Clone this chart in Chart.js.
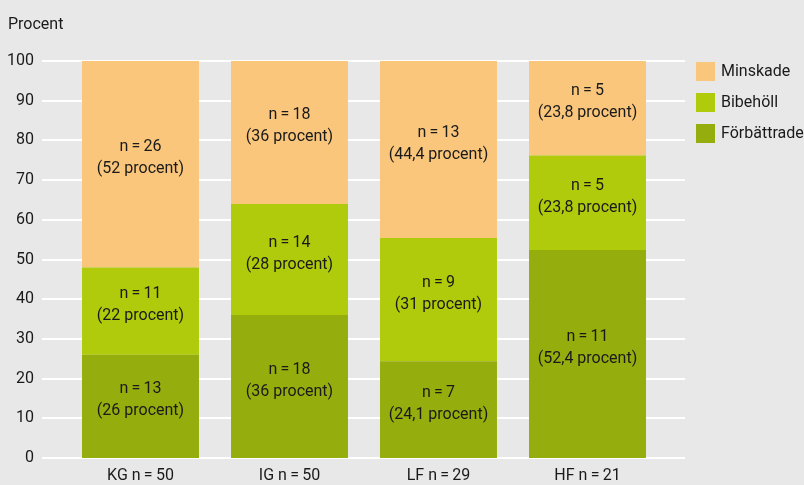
<!DOCTYPE html>
<html>
<head>
<meta charset="utf-8">
<script src="https://cdn.jsdelivr.net/npm/chart.js@4/dist/chart.umd.min.js"></script>
<style>
  html, body { margin: 0; padding: 0; background: #e8e8e8; overflow: hidden; }
  canvas { display: block; }
</style>
</head>
<body>
<canvas id="chart" width="804" height="485"></canvas>
<script>
/* ===== Stacked percent chart ===== */

const categories = ['KG n\u2009=\u200950', 'IG n\u2009=\u200950', 'LF n\u2009=\u200929', 'HF n\u2009=\u200921'];

// bar heights (percent)
const forbattrade = [26, 36, 24.4, 52.4];
const bibeholl = [22, 28, 31, 23.8];
const minskade = [52, 36, 44.6, 23.8];

// counts and printed percentages inside the bars
const forbattradeN = [13, 18, 7, 11];
const bibehollN = [11, 14, 9, 5];
const minskadeN = [26, 18, 13, 5];
const forbattradePct = ['26', '36', '24,1', '52,4'];
const bibehollPct = ['22', '28', '31', '23,8'];
const minskadePct = ['52', '36', '44,4', '23,8'];

const yTicks = [0, 10, 20, 30, 40, 50, 60, 70, 80, 90, 100];

const FONT = "Roboto, 'Liberation Sans', sans-serif";
const TEXT = '#1a1a1a';

const decor = {
  id: 'decor',
  beforeDatasetsDraw(chart) {
    const { ctx, scales: { y } } = chart;
    ctx.save();
    ctx.strokeStyle = '#ffffff';
    ctx.lineWidth = 2;
    yTicks.forEach(v => {
      const py = Math.round(y.getPixelForValue(v));
      ctx.beginPath();
      ctx.moveTo(42, py);
      ctx.lineTo(685, py);
      ctx.stroke();
    });
    ctx.restore();
  },
  afterDatasetsDraw(chart) {
    const { ctx } = chart;
    ctx.save();
    ctx.font = '16px ' + FONT;
    ctx.fillStyle = TEXT;
    ctx.textAlign = 'center';
    ctx.textBaseline = 'middle';
    chart.data.datasets.forEach((ds, i) => {
      chart.getDatasetMeta(i).data.forEach((bar, j) => {
        const cy = (bar.y + bar.base) / 2 - 6;
        ctx.fillText('n\u2009=\u2009' + ds.counts[j], bar.x, cy - 11);
        ctx.fillText('(' + ds.pct[j] + ' procent)', bar.x, cy + 11);
      });
    });

    // axis title
    ctx.textAlign = 'left';
    ctx.textBaseline = 'alphabetic';
    ctx.fillText('Procent', 8, 29);

    // legend, top item = top segment
    const items = chart.data.datasets.slice().reverse();
    items.forEach((ds, k) => {
      const top = 62 + k * 31;
      ctx.fillStyle = ds.backgroundColor;
      ctx.fillRect(696, top, 19, 19);
      ctx.fillStyle = TEXT;
      ctx.textBaseline = 'middle';
      ctx.fillText(ds.label, 721, top + 10);
    });
    ctx.restore();
  }
};

new Chart(document.getElementById('chart'), {
  type: 'bar',
  data: {
    labels: categories,
    datasets: [
      { label: 'Förbättrade', data: forbattrade, counts: forbattradeN, pct: forbattradePct, backgroundColor: '#96ad0e' },
      { label: 'Bibehöll', data: bibeholl, counts: bibehollN, pct: bibehollPct, backgroundColor: '#b0cb0b' },
      { label: 'Minskade', data: minskade, counts: minskadeN, pct: minskadePct, backgroundColor: '#f9c67b' }
    ]
  },
  options: {
    responsive: false,
    animation: false,
    barPercentage: 0.785,
    categoryPercentage: 1,
    layout: { padding: { top: 61, right: 142, left: 0, bottom: 0 } },
    plugins: {
      legend: { display: false },
      tooltip: { enabled: false }
    },
    scales: {
      x: {
        stacked: true,
        border: { display: false },
        grid: { display: false, drawTicks: false },
        ticks: { font: { family: FONT, size: 16 }, color: TEXT, padding: 8 },
        afterFit(scale) { scale.height = 27; }
      },
      y: {
        stacked: true,
        min: 0,
        max: 100,
        border: { display: false },
        grid: { display: false, drawTicks: false },
        ticks: { stepSize: 10, font: { family: FONT, size: 16 }, color: TEXT, padding: 32 },
        afterFit(scale) {
          scale.width = 66;
          // tick padding would otherwise reserve space below the chart area
          scale.paddingTop = 10;
          scale.paddingBottom = 10;
        }
      }
    }
  },
  plugins: [decor]
});
</script>
</body>
</html>
